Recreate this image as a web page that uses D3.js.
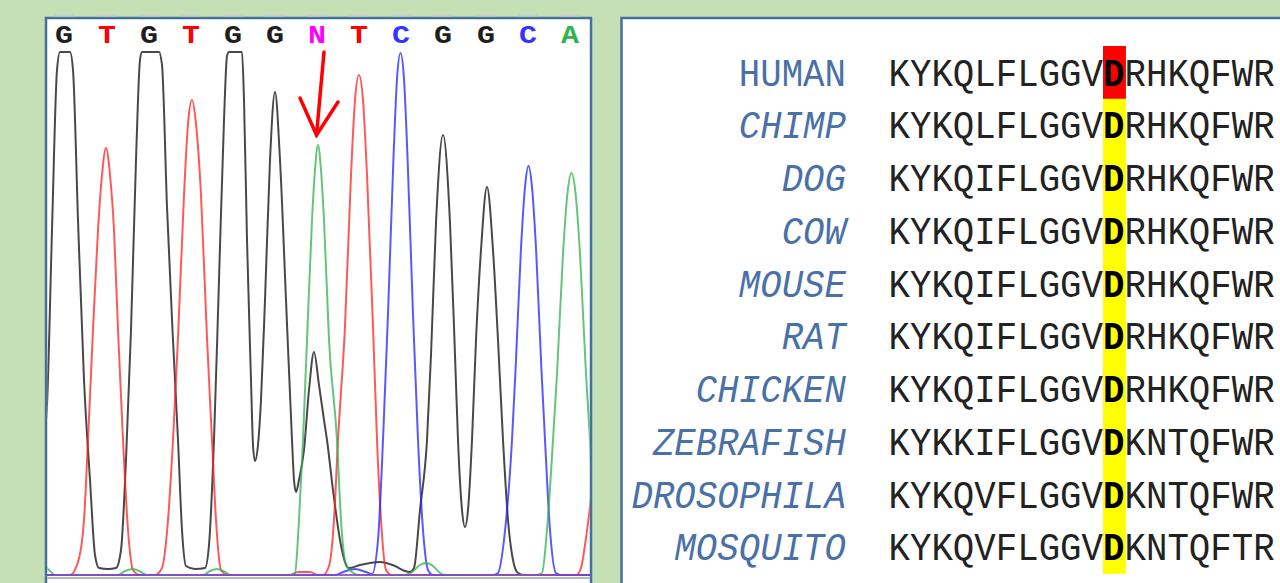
<!DOCTYPE html>
<html>
<head>
<meta charset="utf-8">
<script src="https://cdn.jsdelivr.net/npm/d3@7"></script>
<style>
  html, body { margin: 0; padding: 0; background: #c5e0b4; }
  svg { display: block; }
</style>
</head>
<body>
<svg id="chart" width="1280" height="583"></svg>
<script>
// ---------------- DATA ----------------
// Base calls of the chromatogram and their trace positions (scan units)
const bases = ["G","T","G","T","G","G","N","T","C","G","G","C","A"];
const basePositions = [36,122,206,290,374,458,542,626,710,794,880,964,1048];
const baseColors = { G: "#1e1e1e", T: "#ff0000", C: "#3434ff", A: "#33b24f", N: "#ff00ff" };

// Fluorescence traces: [scan, intensity]
const traceG = [[-12,275],[-4,675],[2,850],[12,1725],[22,2525],[28,2615],[48,2615],[54,2525],[64,1775],[76,975],[88,475],[98,100],[106,35],[124,30],[140,35],[150,125],[160,575],[170,1225],[180,2075],[188,2575],[192,2615],[226,2615],[232,2550],[242,1840],[254,1175],[264,675],[272,225],[280,45],[298,30],[318,35],[326,150],[336,675],[346,1475],[356,2275],[362,2595],[366,2615],[392,2615],[396,2375],[402,1675],[410,975],[414,650],[418,570],[424,650],[430,875],[438,1375],[448,2075],[458,2415],[468,2075],[480,1375],[492,675],[496,475],[500,415],[506,475],[516,625],[526,925],[536,1115],[546,950],[556,775],[562,675],[574,425],[588,175],[598,65],[606,35],[628,50],[668,65],[698,45],[718,20],[728,15],[736,35],[748,325],[762,675],[770,1100],[780,1760],[794,2200],[808,1760],[818,1100],[824,675],[832,325],[838,240],[844,325],[852,675],[860,1175],[870,1625],[882,1940],[894,1625],[904,1175],[914,675],[924,275],[934,75],[944,10],[958,0],[1108,0]];
const traceT = [[-12,0],[48,0],[64,65],[76,275],[84,675],[94,1225],[104,1725],[112,2000],[120,2135],[128,2000],[136,1725],[144,1225],[154,675],[164,225],[174,25],[188,0],[218,0],[232,35],[244,275],[254,675],[264,1185],[276,1900],[284,2255],[292,2375],[300,2255],[310,1900],[322,1185],[332,675],[340,275],[350,25],[364,0],[488,0],[504,15],[528,15],[544,0],[554,0],[566,45],[576,275],[584,675],[598,1245],[610,2000],[618,2375],[626,2500],[634,2375],[642,2000],[654,1245],[662,675],[670,275],[680,25],[692,0],[1060,0],[1070,35],[1078,150],[1086,300],[1096,525]];
const traceC = [[-12,0],[578,0],[594,15],[618,30],[640,15],[652,5],[664,175],[674,675],[684,1305],[695,2090],[702,2480],[709,2610],[716,2480],[723,2090],[734,1305],[744,675],[754,225],[764,25],[774,0],[892,0],[904,10],[916,175],[932,675],[939,1020],[950,1635],[958,1940],[965,2045],[972,1940],[980,1635],[991,1020],[998,675],[1008,225],[1020,10],[1032,0],[1108,0]];
const traceA = [[-12,35],[0,35],[8,20],[18,0],[144,0],[158,20],[174,30],[190,15],[202,0],[314,0],[328,20],[342,30],[358,15],[370,0],[488,0],[498,10],[506,275],[514,675],[522,1175],[532,1775],[538,2025],[544,2150],[550,2025],[556,1775],[566,1175],[582,675],[590,275],[600,50],[612,15],[624,0],[718,0],[732,15],[748,50],[760,60],[774,45],[788,10],[800,0],[978,0],[992,10],[1002,225],[1014,675],[1022,1005],[1034,1605],[1043,1910],[1051,2010],[1059,1910],[1068,1605],[1080,1005],[1088,675],[1096,275],[1104,25]];
const traceColors = { G: "#1a1a1a", T: "#ff2020", C: "#2020ff", A: "#2fb24c" };

// Arrow annotation (scan, intensity) pointing at the N call
const arrowShaft = [[556,2615],[541,2200]];
const arrowHead = [[508,2385],[541,2200],[584,2365]];

// Protein alignment (visible part of each row)
const species = ["HUMAN","CHIMP","DOG","COW","MOUSE","RAT","CHICKEN","ZEBRAFISH","DROSOPHILA","MOSQUITO"];
const sequences = [
  "KYKQLFLGGVDRHKQFWR",
  "KYKQLFLGGVDRHKQFWR",
  "KYKQIFLGGVDRHKQFWR",
  "KYKQIFLGGVDRHKQFWR",
  "KYKQIFLGGVDRHKQFWR",
  "KYKQIFLGGVDRHKQFWR",
  "KYKQIFLGGVDRHKQFWR",
  "KYKKIFLGGVDKNTQFWR",
  "KYKQVFLGGVDKNTQFWR",
  "KYKQVFLGGVDKNTQFTR"
];
const highlightIndex = 10;        // conserved D
const mutatedSpecies = "HUMAN";   // row with the variant

// ---------------- DRAW ----------------
const svg = d3.select("#chart");
const blueBorder = "#41719c";

// Left panel: chromatogram
const L = { x: 46, y: 18, w: 545, h: 620 };
svg.append("rect").attr("x", L.x).attr("y", L.y).attr("width", L.w).attr("height", L.h)
  .attr("fill", "#ffffff").attr("stroke", blueBorder).attr("stroke-width", 2.5);

const x = d3.scaleLinear().domain([0, 1090]).range([46, 591]);
const y = d3.scaleLinear().domain([0, 2615]).range([575, 52]);

svg.append("clipPath").attr("id", "chromClip")
  .append("rect").attr("x", L.x + 1.3).attr("y", L.y + 1.3).attr("width", L.w - 2.6).attr("height", 600);

// small gray tick marks above the base calls
svg.append("g").selectAll("line").data(basePositions).join("line")
  .attr("x1", d => x(d) - 10).attr("x2", d => x(d) + 10)
  .attr("y1", 15.5).attr("y2", 15.5)
  .attr("stroke", "#c9cfc6").attr("stroke-width", 2);

// base letters
svg.append("g").selectAll("text").data(bases).join("text")
  .attr("transform", (d, i) => `translate(${x(basePositions[i])},43) scale(1.2,1)`)
  .attr("text-anchor", "middle")
  .attr("font-family", "'Liberation Mono', 'DejaVu Sans Mono', monospace")
  .attr("font-weight", "bold")
  .attr("font-size", 25)
  .attr("fill", d => baseColors[d])
  .text(d => d);

const g = svg.append("g").attr("clip-path", "url(#chromClip)");

// axis/baseline
g.append("line").attr("x1", 46).attr("x2", 591).attr("y1", 578).attr("y2", 578)
  .attr("stroke", "#b4b8c0").attr("stroke-width", 2);

const line = d3.line().x(d => x(d[0])).y(d => y(d[1])).curve(d3.curveMonotoneX);
const traces = [["G", traceG], ["T", traceT], ["C", traceC], ["A", traceA]];
g.selectAll("path.trace").data(traces).join("path")
  .attr("class", "trace")
  .attr("d", d => line(d[1]))
  .attr("fill", "none")
  .attr("stroke", d => traceColors[d[0]])
  .attr("stroke-width", 2)
  .attr("stroke-opacity", d => d[0] === "G" ? 0.8 : 0.75)
  .attr("stroke-linejoin", "round");

g.append("line").attr("x1", 46).attr("x2", 591).attr("y1", y(0)).attr("y2", y(0))
  .attr("stroke", "#8a46c8").attr("stroke-width", 1.8).attr("stroke-opacity", 0.85);

// red arrow
const aline = d3.line().x(d => x(d[0])).y(d => y(d[1]));
svg.append("path").attr("d", aline(arrowShaft)).attr("stroke", "#ff0000")
  .attr("stroke-width", 3.5).attr("fill", "none").attr("stroke-linecap", "round");
svg.append("path").attr("d", aline(arrowHead)).attr("stroke", "#ff0000")
  .attr("stroke-width", 3.5).attr("fill", "none").attr("stroke-linejoin", "miter").attr("stroke-linecap", "round");

// Right panel: alignment
const R = { x: 621.5, y: 18, w: 720, h: 620 };
svg.append("rect").attr("x", R.x).attr("y", R.y).attr("width", R.w).attr("height", R.h)
  .attr("fill", "#ffffff").attr("stroke", blueBorder).attr("stroke-width", 2.5);

const charW = 21.45;
const nRes = sequences[0].length;
const col = d3.scaleBand().domain(d3.range(nRes)).range([888.5, 888.5 + nRes * charW]);
const row = d3.scaleBand().domain(species).range([46, 573.5]);

// highlight column
svg.append("g").selectAll("rect").data(species).join("rect")
  .attr("x", col(highlightIndex))
  .attr("width", col.bandwidth() + 1.5)
  .attr("y", d => row(d))
  .attr("height", row.bandwidth() + 0.3)
  .attr("fill", d => d === mutatedSpecies ? "#ff0000" : "#ffff00");

const fontMono = "'Liberation Mono', 'DejaVu Sans Mono', monospace";
const fs = charW / 0.6;

// species names
svg.append("g").selectAll("text").data(species).join("text")
  .attr("transform", d => `translate(846,${row(d) + 39.5}) scale(1,1.1)`)
  .attr("text-anchor", "end")
  .attr("font-family", fontMono)
  .attr("font-size", fs)
  .attr("font-style", d => d === "HUMAN" ? "normal" : "italic")
  .attr("fill", "#4a70a8")
  .text(d => d);

// sequences
const seqText = svg.append("g").selectAll("text").data(sequences).join("text")
  .attr("transform", (d, i) => `translate(${col(0)},${row(species[i]) + 39.5}) scale(1,1.1)`)
  .attr("font-family", fontMono)
  .attr("font-size", fs)
  .attr("fill", "#222222");
seqText.append("tspan").text(d => d.slice(0, highlightIndex));
seqText.append("tspan").attr("font-weight", "bold").attr("fill", "#000").text(d => d[highlightIndex]);
seqText.append("tspan").text(d => d.slice(highlightIndex + 1));
</script>
</body>
</html>
